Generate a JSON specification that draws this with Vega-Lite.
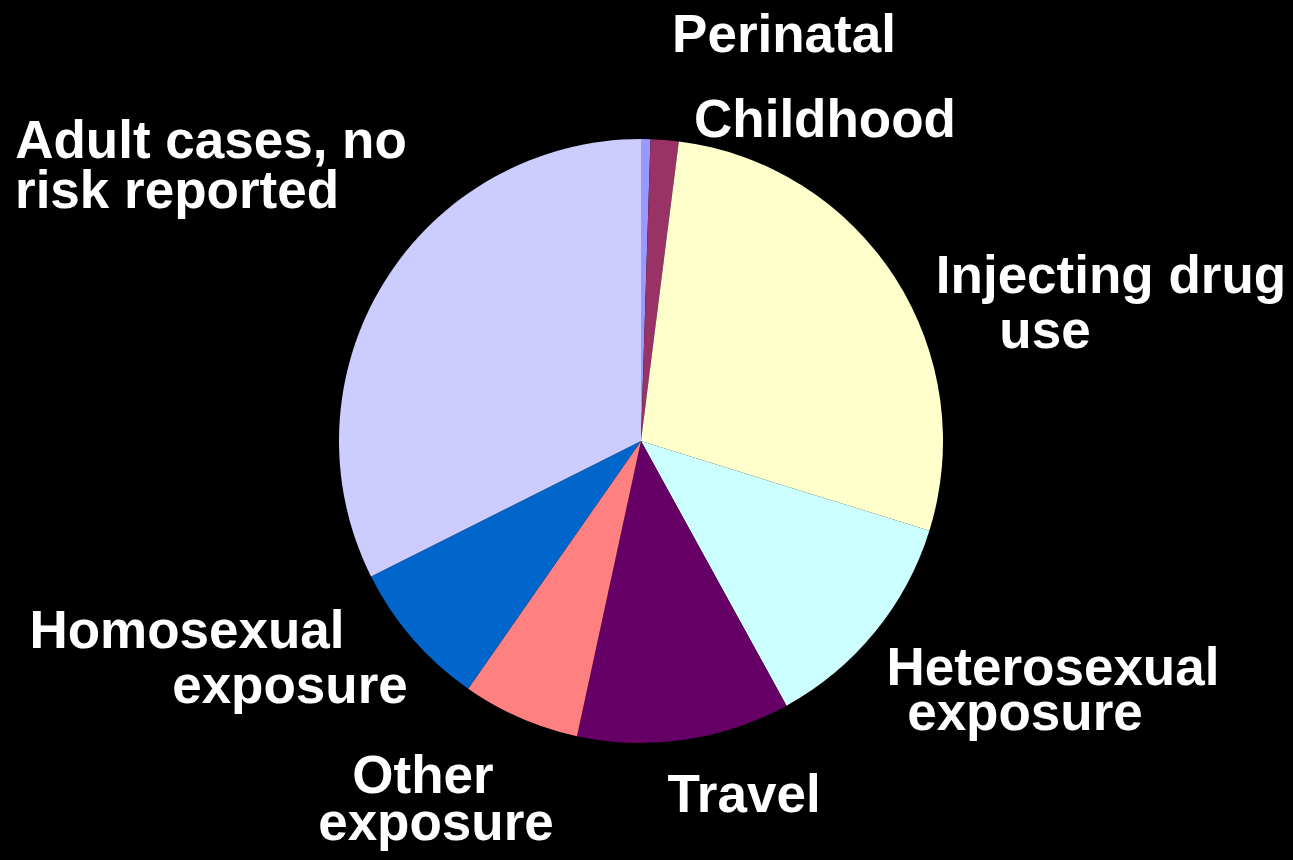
{
  "$schema": "https://vega.github.io/schema/vega-lite/v6.json",
  "width": 1282,
  "height": 838,
  "padding": {"left": 0, "top": 22, "right": 11, "bottom": 0},
  "autosize": {"type": "none"},
  "background": "#000000",
  "config": {"view": {"stroke": null}},
  "datasets": {
    "slices": [
      {"category": "Perinatal", "percent": 0.5},
      {"category": "Childhood", "percent": 1.5},
      {"category": "Injecting drug use", "percent": 27.8},
      {"category": "Heterosexual exposure", "percent": 12.2},
      {"category": "Travel", "percent": 11.4},
      {"category": "Other exposure", "percent": 6.3},
      {"category": "Homosexual exposure", "percent": 7.9},
      {"category": "Adult cases, no risk reported", "percent": 32.4}
    ],
    "labels": [
      {"category": "Perinatal", "part": 1, "line": "Perinatal"},
      {"category": "Childhood", "part": 1, "line": "Childhood"},
      {"category": "Injecting drug use", "part": 1, "line": "Injecting drug"},
      {"category": "Injecting drug use", "part": 2, "line": "use"},
      {"category": "Heterosexual exposure", "part": 1, "line": "Heterosexual"},
      {"category": "Heterosexual exposure", "part": 2, "line": "exposure"},
      {"category": "Travel", "part": 1, "line": "Travel"},
      {"category": "Other exposure", "part": 1, "line": "Other"},
      {"category": "Other exposure", "part": 2, "line": "exposure"},
      {"category": "Homosexual exposure", "part": 1, "line": "Homosexual"},
      {"category": "Homosexual exposure", "part": 2, "line": "exposure"},
      {"category": "Adult cases, no risk reported", "part": 1, "line": "Adult cases, no"},
      {"category": "Adult cases, no risk reported", "part": 2, "line": "risk reported"}
    ]
  },
  "layer": [
    {
      "data": {"name": "slices"},
      "transform": [{"window": [{"op": "row_number", "as": "seq"}]}],
      "mark": {"type": "arc", "outerRadius": 302, "stroke": null},
      "encoding": {
        "theta": {"field": "percent", "type": "quantitative", "stack": true},
        "order": {"field": "seq", "type": "quantitative"},
        "color": {
          "field": "category",
          "type": "nominal",
          "legend": null,
          "scale": {
            "domain": ["Perinatal", "Childhood", "Injecting drug use", "Heterosexual exposure", "Travel", "Other exposure", "Homosexual exposure", "Adult cases, no risk reported"],
            "range": ["#9999ff", "#993366", "#ffffcc", "#ccffff", "#660066", "#ff8080", "#0066cc", "#ccccff"]
          }
        }
      }
    },
    {
      "data": {"name": "labels"},
      "transform": [{"filter": "datum.category === 'Perinatal'"}],
      "mark": {"type": "text", "font": "Liberation Sans", "fontWeight": "bold", "fontSize": 53, "color": "#ffffff", "align": "center", "baseline": "alphabetic", "dx": 143, "dy": -389},
      "encoding": {"text": {"field": "line"}}
    },
    {
      "data": {"name": "labels"},
      "transform": [{"filter": "datum.category === 'Childhood'"}],
      "mark": {"type": "text", "font": "Liberation Sans", "fontWeight": "bold", "fontSize": 53, "color": "#ffffff", "align": "center", "baseline": "alphabetic", "dx": 184, "dy": -304},
      "encoding": {"text": {"field": "line"}}
    },
    {
      "data": {"name": "labels"},
      "transform": [{"filter": "datum.category === 'Injecting drug use' && datum.part === 1"}],
      "mark": {"type": "text", "font": "Liberation Sans", "fontWeight": "bold", "fontSize": 53, "color": "#ffffff", "align": "center", "baseline": "alphabetic", "dx": 470, "dy": -148},
      "encoding": {"text": {"field": "line"}}
    },
    {
      "data": {"name": "labels"},
      "transform": [{"filter": "datum.category === 'Injecting drug use' && datum.part === 2"}],
      "mark": {"type": "text", "font": "Liberation Sans", "fontWeight": "bold", "fontSize": 53, "color": "#ffffff", "align": "center", "baseline": "alphabetic", "dx": 404, "dy": -93},
      "encoding": {"text": {"field": "line"}}
    },
    {
      "data": {"name": "labels"},
      "transform": [{"filter": "datum.category === 'Heterosexual exposure' && datum.part === 1"}],
      "mark": {"type": "text", "font": "Liberation Sans", "fontWeight": "bold", "fontSize": 53, "color": "#ffffff", "align": "center", "baseline": "alphabetic", "dx": 412, "dy": 244},
      "encoding": {"text": {"field": "line"}}
    },
    {
      "data": {"name": "labels"},
      "transform": [{"filter": "datum.category === 'Heterosexual exposure' && datum.part === 2"}],
      "mark": {"type": "text", "font": "Liberation Sans", "fontWeight": "bold", "fontSize": 53, "color": "#ffffff", "align": "center", "baseline": "alphabetic", "dx": 384, "dy": 289},
      "encoding": {"text": {"field": "line"}}
    },
    {
      "data": {"name": "labels"},
      "transform": [{"filter": "datum.category === 'Travel'"}],
      "mark": {"type": "text", "font": "Liberation Sans", "fontWeight": "bold", "fontSize": 53, "color": "#ffffff", "align": "center", "baseline": "alphabetic", "dx": 103, "dy": 371},
      "encoding": {"text": {"field": "line"}}
    },
    {
      "data": {"name": "labels"},
      "transform": [{"filter": "datum.category === 'Other exposure' && datum.part === 1"}],
      "mark": {"type": "text", "font": "Liberation Sans", "fontWeight": "bold", "fontSize": 53, "color": "#ffffff", "align": "center", "baseline": "alphabetic", "dx": -218, "dy": 352},
      "encoding": {"text": {"field": "line"}}
    },
    {
      "data": {"name": "labels"},
      "transform": [{"filter": "datum.category === 'Other exposure' && datum.part === 2"}],
      "mark": {"type": "text", "font": "Liberation Sans", "fontWeight": "bold", "fontSize": 53, "color": "#ffffff", "align": "center", "baseline": "alphabetic", "dx": -205, "dy": 399},
      "encoding": {"text": {"field": "line"}}
    },
    {
      "data": {"name": "labels"},
      "transform": [{"filter": "datum.category === 'Homosexual exposure' && datum.part === 1"}],
      "mark": {"type": "text", "font": "Liberation Sans", "fontWeight": "bold", "fontSize": 53, "color": "#ffffff", "align": "center", "baseline": "alphabetic", "dx": -454, "dy": 207},
      "encoding": {"text": {"field": "line"}}
    },
    {
      "data": {"name": "labels"},
      "transform": [{"filter": "datum.category === 'Homosexual exposure' && datum.part === 2"}],
      "mark": {"type": "text", "font": "Liberation Sans", "fontWeight": "bold", "fontSize": 53, "color": "#ffffff", "align": "center", "baseline": "alphabetic", "dx": -351, "dy": 262},
      "encoding": {"text": {"field": "line"}}
    },
    {
      "data": {"name": "labels"},
      "transform": [{"filter": "datum.category === 'Adult cases, no risk reported' && datum.part === 1"}],
      "mark": {"type": "text", "font": "Liberation Sans", "fontWeight": "bold", "fontSize": 53, "color": "#ffffff", "align": "center", "baseline": "alphabetic", "dx": -430, "dy": -283},
      "encoding": {"text": {"field": "line"}}
    },
    {
      "data": {"name": "labels"},
      "transform": [{"filter": "datum.category === 'Adult cases, no risk reported' && datum.part === 2"}],
      "mark": {"type": "text", "font": "Liberation Sans", "fontWeight": "bold", "fontSize": 53, "color": "#ffffff", "align": "center", "baseline": "alphabetic", "dx": -464, "dy": -233},
      "encoding": {"text": {"field": "line"}}
    }
  ]
}
